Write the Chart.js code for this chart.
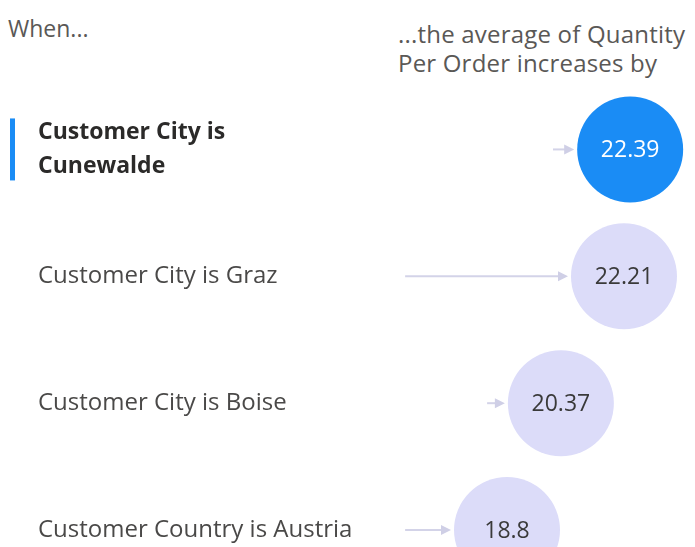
<!DOCTYPE html>
<html>
<head>
<meta charset="utf-8">
<script src="https://cdn.jsdelivr.net/npm/chart.js@4"></script>
<style>
  html, body { margin: 0; padding: 0; background: #fff; }
  #wrap { position: relative; width: 695px; height: 547px; overflow: hidden; background: #fff; }
  #c { position: absolute; left: 0; top: 0; }
  .hdr { position: absolute; font-family: 'Open Sans', sans-serif; font-size: 24px; color: #5a5856; line-height: 29px; white-space: nowrap; }
</style>
</head>
<body>
<div id="wrap">
  <div class="hdr" style="left:8px; top:14px; font-size:23px;">When...</div>
  <div class="hdr" style="left:398px; top:19px; letter-spacing:0.2px;">...the average of Quantity<br>Per Order increases by</div>
  <canvas id="c" width="695" height="628"></canvas>
</div>
<script>
const categories = [['Customer City is', 'Cunewalde'], 'Customer City is Graz', 'Customer City is Boise', 'Customer Country is Austria'];
const values = [22.39, 22.21, 20.37, 18.8];
const valueLabels = ['22.39', '22.21', '20.37', '18.8'];
const arrowFrom = [20.14, 15.83, 18.22, 15.83];
const selectedIndex = 0;

const FONT = "'Open Sans', sans-serif";
const BLUE = '#1a8cf5';
const LAVENDER = '#dcdcf9';
const BUBBLE_R = 53;

const decorPlugin = {
  id: 'decor',
  beforeDatasetsDraw(chart) {
    const ctx = chart.ctx;
    const xs = chart.scales.x, ys = chart.scales.y;
    ctx.save();
    const yc = ys.getPixelForValue(selectedIndex);
    ctx.fillStyle = BLUE;
    ctx.fillRect(10, yc - 31, 5, 62);
    ctx.strokeStyle = '#d3d3e8';
    ctx.fillStyle = '#cfcfe6';
    ctx.lineWidth = 2;
    values.forEach((v, i) => {
      const y = ys.getPixelForValue(i);
      const x0 = xs.getPixelForValue(arrowFrom[i]);
      const tip = xs.getPixelForValue(v) - BUBBLE_R - 3;
      ctx.beginPath();
      ctx.moveTo(x0, y);
      ctx.lineTo(tip - 8, y);
      ctx.stroke();
      ctx.beginPath();
      ctx.moveTo(tip, y);
      ctx.lineTo(tip - 10, y - 5);
      ctx.lineTo(tip - 10, y + 5);
      ctx.closePath();
      ctx.fill();
    });
    ctx.restore();
  },
  afterDatasetsDraw(chart) {
    const ctx = chart.ctx;
    const meta = chart.getDatasetMeta(0);
    ctx.save();
    ctx.textAlign = 'center';
    ctx.textBaseline = 'middle';
    ctx.font = "23px " + FONT;
    meta.data.forEach((el, i) => {
      ctx.fillStyle = i === selectedIndex ? '#ffffff' : '#3a3a3a';
      ctx.fillText(valueLabels[i], el.x, el.y + 1);
    });
    ctx.restore();
  }
};

new Chart(document.getElementById('c'), {
  type: 'bubble',
  data: {
    labels: categories,
    datasets: [{
      data: values.map((v, i) => ({ x: v, y: i })),
      radius: BUBBLE_R,
      hoverRadius: BUBBLE_R,
      backgroundColor: values.map((v, i) => i === selectedIndex ? BLUE : LAVENDER),
      borderWidth: 0,
      hoverBorderWidth: 0
    }]
  },
  options: {
    responsive: false,
    animation: false,
    devicePixelRatio: 1,
    events: [],
    layout: { autoPadding: false, padding: { left: 38, top: 86, bottom: 27, right: 0 } },
    plugins: { legend: { display: false }, tooltip: { enabled: false } },
    scales: {
      x: {
        type: 'linear',
        display: false,
        min: 15.535,
        max: 24.28
      },
      y: {
        type: 'category',
        labels: categories,
        offset: true,
        grid: { display: false },
        border: { display: false },
        afterFit(scale) { scale.width = 357; },
        ticks: {
          crossAlign: 'far',
          padding: 0,
          font: (ctx) => ({ family: FONT, size: ctx.index === selectedIndex ? 23 : 24, weight: ctx.index === selectedIndex ? 'bold' : 'normal', lineHeight: 1.5 }),
          color: (ctx) => ctx.index === selectedIndex ? '#2b2a29' : '#4a4948'
        }
      }
    }
  },
  plugins: [decorPlugin]
});
</script>
</body>
</html>
